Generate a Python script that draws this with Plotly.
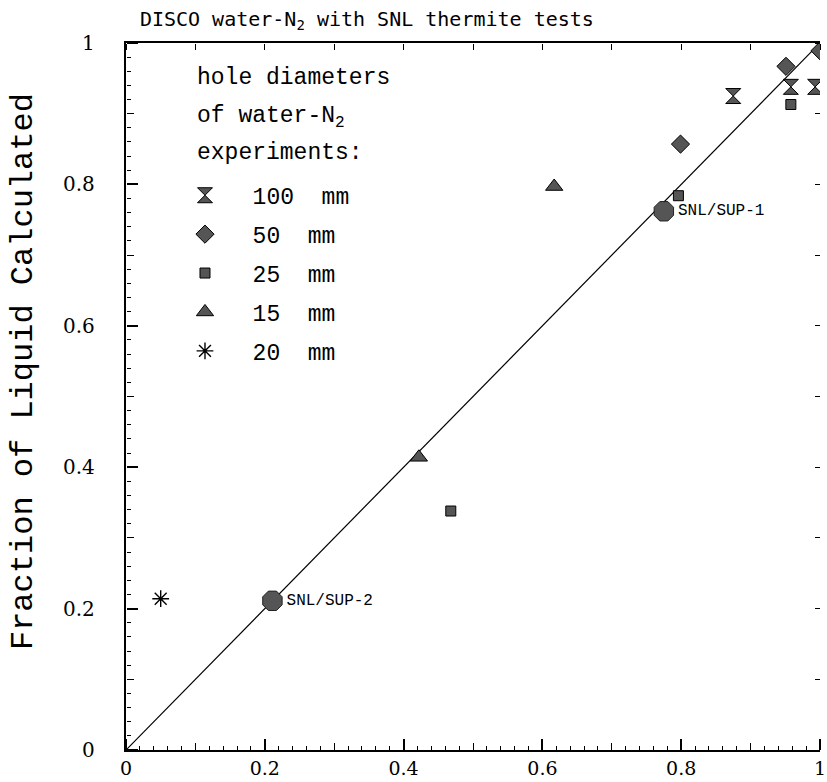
import plotly.graph_objects as go

# ---- data ----
d100_x = [0.875, 0.958, 0.993]
d100_y = [0.925, 0.938, 0.938]
d50_x = [0.799, 0.951, 1.0]
d50_y = [0.857, 0.967, 0.989]
d25_x = [0.468, 0.796, 0.958]
d25_y = [0.338, 0.784, 0.913]
d15_x = [0.422, 0.617]
d15_y = [0.414, 0.797]
d20_x = [0.05]
d20_y = [0.214]
snl_x = [0.211, 0.775]
snl_y = [0.211, 0.762]
snl_names = ["SNL/SUP-2", "SNL/SUP-1"]
diag = [0.0, 1.0]
legend_names = ["100 mm", "50 mm", "25 mm", "15 mm", "20 mm"]
legend_head = ["hole diameters", "of water-N<sub>2</sub>", "experiments:"]

MONO = "Liberation Mono"
TICKF = "DejaVu Serif"
FILL = "#555555"
NB = "\u00a0"

fig = go.Figure()
fig.add_trace(go.Scatter(x=diag, y=diag, mode="lines", line=dict(color="black", width=1.2),
                         showlegend=False))


def legname(s):
    return NB * 2 + s.replace(" ", NB * 2)


def pts(x, y, name, symbol, size, color=FILL, lw=1, lc="black"):
    fig.add_trace(go.Scatter(
        x=x, y=y, mode="markers", name=legname(name), legendgroup=name,
        marker=dict(symbol=symbol, size=size, color=color, line=dict(color=lc, width=lw))))


pts(d100_x, d100_y, legend_names[0], "hourglass", 15)
pts(d50_x, d50_y, legend_names[1], "diamond", 14)
pts(d25_x, d25_y, legend_names[2], "square", 10)
pts(d15_x, d15_y, legend_names[3], "triangle-up", 15)
pts(d20_x, d20_y, legend_names[4], "asterisk-open", 14, color="black", lw=1.4, lc="black")

fig.add_trace(go.Scatter(
    x=snl_x, y=snl_y, mode="markers+text", text=snl_names, textposition="middle right",
    textfont=dict(family=MONO, size=16, color="black"),
    marker=dict(symbol="octagon", size=21, color=FILL, line=dict(color="#222", width=1)),
    showlegend=False))

# invisible carriers so the tick-only axes exist
for xa, ya in (("x2", "y2"), ("x3", "y3"), ("x4", "y4")):
    fig.add_trace(go.Scatter(x=diag, y=diag, xaxis=xa, yaxis=ya, mode="lines",
                             line=dict(width=0, color="rgba(0,0,0,0)"), showlegend=False))

# legend heading lines (paper coords)
head_y = [0.950, 0.895, 0.844]
for txt, yy in zip(legend_head, head_y):
    fig.add_annotation(text=txt, xref="paper", yref="paper", x=0.100, y=yy,
                       xanchor="left", yanchor="middle", showarrow=False,
                       font=dict(family=MONO, size=23, color="black"))

# y-axis title
fig.add_annotation(text="Fraction of Liquid Calculated", xref="paper", yref="paper",
                   x=-0.148, y=0.535, xanchor="center", yanchor="middle", textangle=-90,
                   showarrow=False, font=dict(family=MONO, size=32, color="black"))

base = dict(range=[0, 1], showgrid=False, zeroline=False, linecolor="black")
tk = dict(tickcolor="black", showticklabels=False, showline=False)

fig.update_layout(
    width=827, height=782,
    margin=dict(l=126, r=1, t=43, b=32),
    paper_bgcolor="white", plot_bgcolor="white",
    showlegend=True,
    legend=dict(
        x=0.085, y=0.815, xanchor="left", yanchor="top",
        bgcolor="rgba(0,0,0,0)",
        font=dict(family=MONO, size=23, color="black"),
        tracegroupgap=6, itemwidth=30,
    ),
    title=dict(text="DISCO water-N<sub>2</sub> with SNL thermite tests",
               font=dict(family="DejaVu Sans Mono", size=20, color="black"),
               x=0.02, xanchor="left", xref="paper", y=0.985, yanchor="top"),
    # main axes: lines + labels
    xaxis=dict(**base, showline=True, linewidth=1.5, mirror=True, ticks="", dtick=0.2,
               ticklabeloverflow="allow",
               tickfont=dict(family=TICKF, size=19, color="black")),
    yaxis=dict(**base, showline=True, linewidth=1.5, ticks="", dtick=0.2,
               ticksuffix=NB * 4, tickfont=dict(family=TICKF, size=20, color="black")),
    # bottom ticks pointing up (axis on top side, placed at bottom)
    xaxis2=dict(**base, **tk, overlaying="x", side="top", anchor="free", position=0,
                ticks="outside", dtick=0.2, ticklen=11, tickwidth=1.5,
                minor=dict(dtick=0.02, ticks="outside", ticklen=4, tickwidth=1.2,
                           tickcolor="black")),
    xaxis3=dict(**base, **tk, overlaying="x", side="top", anchor="free", position=0,
                ticks="outside", dtick=0.1, ticklen=7, tickwidth=1.3),
    # top ticks pointing down
    xaxis4=dict(**base, **tk, overlaying="x", side="bottom", anchor="free", position=1,
                ticks="outside", dtick=0.1, ticklen=6, tickwidth=1.3),
    # left ticks pointing right
    yaxis2=dict(**base, **tk, overlaying="y", side="right", anchor="free", position=0,
                ticks="outside", dtick=0.2, ticklen=11, tickwidth=1.5,
                minor=dict(dtick=0.02, ticks="outside", ticklen=4, tickwidth=1.2,
                           tickcolor="black")),
    yaxis3=dict(**base, **tk, overlaying="y", side="right", anchor="free", position=0,
                ticks="outside", dtick=0.1, ticklen=7, tickwidth=1.3),
    # right ticks pointing left
    yaxis4=dict(**base, **tk, overlaying="y", side="left", anchor="free", position=1,
                ticks="outside", dtick=0.1, ticklen=5, tickwidth=1.3),
)

fig.write_html("out.html")
